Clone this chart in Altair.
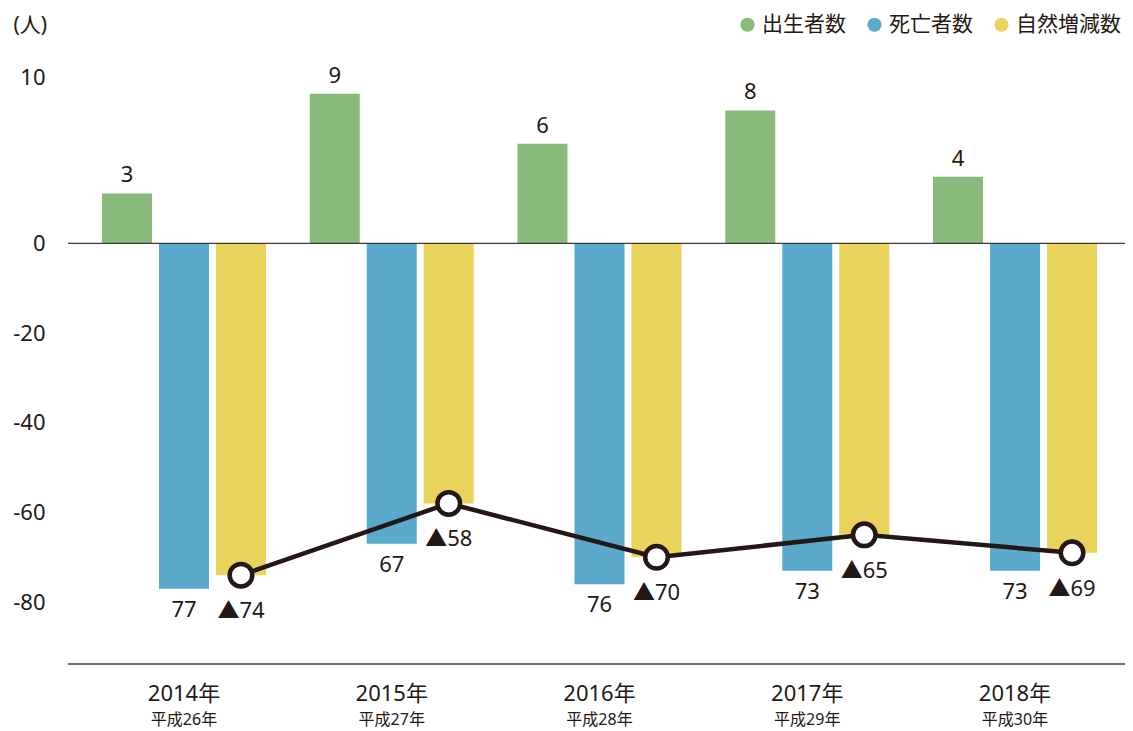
import altair as alt
import pandas as pd

years = ["2014年", "2015年", "2016年", "2017年", "2018年"]
eras = ["平成26年", "平成27年", "平成28年", "平成29年", "平成30年"]
series_names = ["出生者数", "死亡者数", "自然増減数"]
births = [3, 9, 6, 8, 4]
deaths = [77, 67, 76, 73, 73]
natural_change = [-74, -58, -70, -65, -69]
colors = ["#88BA7C", "#5BA9CB", "#EAD35A"]
y_ticks = [10, 0, -20, -40, -60, -80]
y_domain = [-93.8, 0, 12]

rows = []
for i, yr in enumerate(years):
    rows.append({"year": yr, "series": series_names[0], "value": births[i]})
    rows.append({"year": yr, "series": series_names[1], "value": -deaths[i]})
    rows.append({"year": yr, "series": series_names[2], "value": natural_change[i]})
df = pd.DataFrame(rows)
era_df = pd.DataFrame({"year": years, "era": eras})

FONT = "Noto Sans, Noto Sans CJK JP"
INK = "#231815"
LINE = "#3e3a39"

x_enc = alt.X(
    "year:N", sort=years,
    scale=alt.Scale(paddingInner=0, paddingOuter=0.0438, align=0.665),
    axis=alt.Axis(title=None, labelAngle=0, ticks=False, tickSize=0, domain=False,
                  labelFontSize=22, labelColor=INK,
                  labelFont=FONT, labelPadding=29, labelBaseline="middle", grid=False),
)
xo_enc = alt.XOffset("series:N", sort=series_names,
                     scale=alt.Scale(paddingInner=0.1228, paddingOuter=0.3838))
y_enc = alt.Y(
    "value:Q",
    scale=alt.Scale(domain=y_domain, range=[620, 199.3, 0], nice=False, zero=False),
    axis=alt.Axis(values=y_ticks, labelExpr="'' + datum.value",
                  title="(人)", titleAngle=0, titleX=-55, titleY=-19,
                  titleAlign="left", titleBaseline="middle", titleFontSize=21,
                  titleFont=FONT, titleFontWeight="normal", titleColor=INK,
                  labelFontSize=22, labelColor=INK, labelFont=FONT, labelPadding=23,
                  ticks=False, tickSize=0, domain=False, grid=False),
)

base = alt.Chart(df)

bars = base.mark_bar().encode(
    x=x_enc, xOffset=xo_enc, y=y_enc, y2=alt.datum(0),
    color=alt.Color("series:N",
                    scale=alt.Scale(domain=series_names, range=colors),
                    legend=alt.Legend(orient="none", legendX=669, legendY=-30,
                                      direction="horizontal", title=None,
                                      symbolType="circle", symbolSize=201,
                                      symbolStrokeWidth=0, symbolOpacity=1,
                                      labelFontSize=21, labelFont=FONT,
                                      labelColor=INK, labelOffset=4,
                                      columnPadding=18)),
)

ref_lines = alt.Chart(pd.DataFrame({"z": [0, y_domain[0]]})).mark_rule(
    color=LINE, strokeWidth=1.3).encode(y=alt.Y("z:Q"))

nat = base.transform_filter(alt.datum.series == series_names[2])
line = nat.mark_line(color=INK, strokeWidth=4.5).encode(x=x_enc, xOffset=xo_enc, y=y_enc)
pts = nat.mark_point(shape="circle", filled=True, fill="white", stroke=INK,
                     strokeWidth=4.5, size=510, opacity=1).encode(
    x=x_enc, xOffset=xo_enc, y=y_enc)

birth_lbl = base.transform_filter(alt.datum.series == series_names[0]).mark_text(
    font=FONT, fontSize=22, color=INK, baseline="alphabetic", dy=-11).encode(
    x=x_enc, xOffset=xo_enc, y=y_enc, text="value:Q")

death_lbl = base.transform_filter(alt.datum.series == series_names[1]).transform_calculate(
    label="abs(datum.value)").mark_text(
    font=FONT, fontSize=22, color=INK, baseline="middle", dy=21).encode(
    x=x_enc, xOffset=xo_enc, y=y_enc, text="label:N")

nat_lbl = nat.transform_calculate(label="'▲' + abs(datum.value)").mark_text(
    font=FONT, fontSize=22, color=INK, baseline="middle", dy=36).encode(
    x=x_enc, xOffset=xo_enc, y=y_enc, text="label:N")

era_lbl = alt.Chart(era_df).mark_text(
    font=FONT, fontSize=16, color=INK, baseline="middle").encode(
    x=x_enc, y=alt.value(676), text="era:N")

chart = alt.layer(
    bars, ref_lines, line, pts, birth_lbl, death_lbl, nat_lbl, era_lbl
).properties(
    width=1057, height=620,
    autosize=alt.AutoSizeParams(type="none"),
    padding={"left": 60, "top": 36, "right": 0, "bottom": 65},
    background="white",
).configure_view(stroke=None)

chart.save("out.html", embed_options={"renderer": "svg", "actions": False})
